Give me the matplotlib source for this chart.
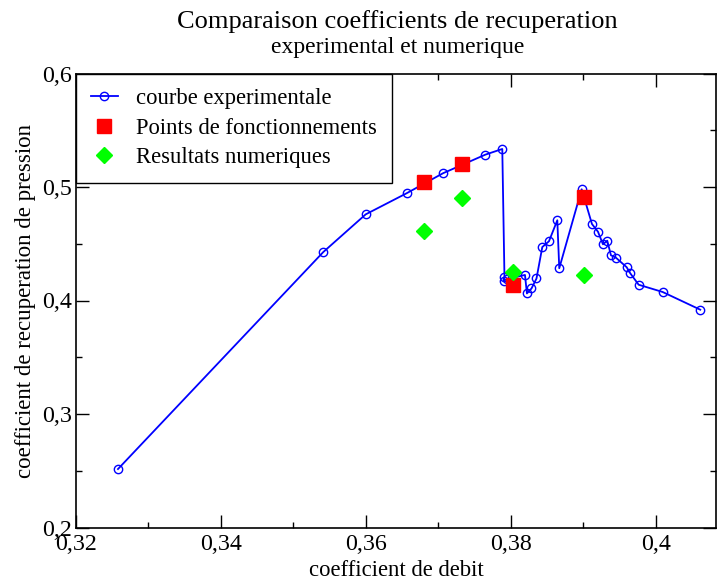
import matplotlib
matplotlib.use('Agg')
import matplotlib.pyplot as plt
from matplotlib.ticker import MultipleLocator, FuncFormatter

# courbe experimentale
exp_x = [0.32579, 0.35411, 0.35996, 0.36561, 0.37062, 0.37646, 0.37880,
         0.37910, 0.37903, 0.37945, 0.38193, 0.38220, 0.38283, 0.38352,
         0.38432, 0.38524, 0.38639, 0.38666, 0.38975, 0.39117, 0.39200,
         0.39269, 0.39328, 0.39379, 0.39448, 0.39596, 0.39645, 0.39761,
         0.40092, 0.40611]
exp_y = [0.2515, 0.4427, 0.4759, 0.4945, 0.5121, 0.5285, 0.5335,
         0.4211, 0.4175, 0.4189, 0.4225, 0.4062, 0.4106, 0.4194,
         0.4471, 0.4522, 0.4707, 0.4284, 0.4980, 0.4674, 0.4606,
         0.4495, 0.4527, 0.4398, 0.4377, 0.4293, 0.4240, 0.4139,
         0.4075, 0.3919]

# points de fonctionnement
pf_x = [0.36800, 0.37324, 0.38032, 0.39007]
pf_y = [0.5047, 0.5205, 0.4134, 0.4915]

# resultats numeriques
num_x = [0.36800, 0.37324, 0.38032, 0.39007]
num_y = [0.4615, 0.4900, 0.4251, 0.4227]

plt.rcParams['font.family'] = ['Liberation Serif', 'DejaVu Serif']

fig = plt.figure(figsize=(7.17, 5.84), dpi=100)
ax = fig.add_axes([76 / 717, 56.5 / 584, 640 / 717, 454 / 584])

ax.plot(exp_x, exp_y, color='#0000ff', lw=1.3, marker='o', ms=6,
        mfc='none', mec='#0000ff', mew=1.0, label='courbe experimentale')
ax.plot(pf_x, pf_y, ls='none', marker='s', ms=9.5, color='#ff0000',
        label='Points de fonctionnements')
ax.plot(num_x, num_y, ls='none', marker='D', ms=8, color='#00ff00',
        label='Resultats numeriques')

ax.set_xlim(0.32, 0.40828)
ax.set_ylim(0.2, 0.6)

ax.xaxis.set_major_locator(MultipleLocator(0.02))
ax.xaxis.set_minor_locator(MultipleLocator(0.01))
ax.yaxis.set_major_locator(MultipleLocator(0.1))
ax.yaxis.set_minor_locator(MultipleLocator(0.05))

virgule = FuncFormatter(lambda v, p: ('%g' % round(v, 4)).replace('.', ','))
ax.xaxis.set_major_formatter(virgule)
ax.yaxis.set_major_formatter(virgule)

ax.tick_params(which='both', direction='in', top=True, right=True,
               labelsize=17.3, width=1.0)
ax.tick_params(which='major', length=9.5)
ax.tick_params(which='minor', length=4.5)
ax.tick_params(axis='x', which='major', pad=5)
ax.tick_params(axis='y', which='major', pad=3)
for s in ax.spines.values():
    s.set_linewidth(1.2)

ax.set_xlabel('coefficient de debit', fontsize=16.3, labelpad=3)
ax.set_ylabel('coefficient de recuperation de pression', fontsize=16.5, labelpad=4)

fig.text(0.554, 1 - 28 / 584, 'Comparaison coefficients de recuperation',
         ha='center', va='baseline', fontsize=19)
fig.text(0.554, 1 - 53 / 584, 'experimental et numerique',
         ha='center', va='baseline', fontsize=17)

leg = ax.legend(loc='upper left', bbox_to_anchor=(0, 1), borderaxespad=0,
                fontsize=16.3, fancybox=False, framealpha=1, edgecolor='black',
                handlelength=1.2, handletextpad=0.8, labelspacing=0.38,
                borderpad=0.65)
leg.get_frame().set_linewidth(1.0)

fig.savefig('out.png', dpi=100)
